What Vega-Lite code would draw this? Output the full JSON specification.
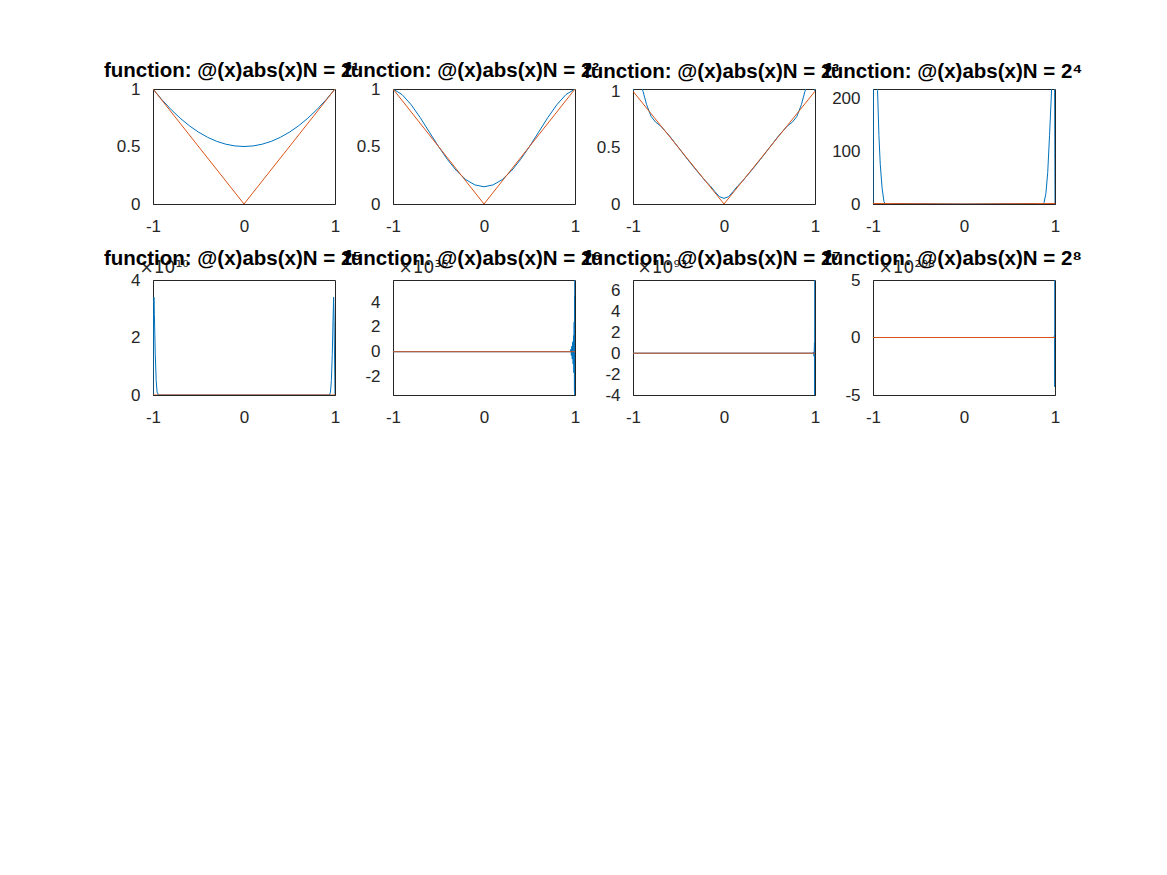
{
  "$schema": "https://vega.github.io/schema/vega-lite/v6.json",
  "autosize": "none",
  "padding": {"left": 153, "top": 89, "right": 1014, "bottom": 786},
  "background": "white",
  "datasets": {
    "curves": [
      {"p":1,"s":"p","x":-1,"y":1},{"p":1,"s":"p","x":-0.9,"y":0.905},{"p":1,"s":"p","x":-0.8,"y":0.82},{"p":1,"s":"p","x":-0.7,"y":0.745},{"p":1,"s":"p","x":-0.6,"y":0.68},{"p":1,"s":"p","x":-0.5,"y":0.625},{"p":1,"s":"p","x":-0.4,"y":0.58},{"p":1,"s":"p","x":-0.3,"y":0.545},{"p":1,"s":"p","x":-0.2,"y":0.52},{"p":1,"s":"p","x":-0.1,"y":0.505},{"p":1,"s":"p","x":0,"y":0.5},{"p":1,"s":"p","x":0.1,"y":0.505},{"p":1,"s":"p","x":0.2,"y":0.52},{"p":1,"s":"p","x":0.3,"y":0.545},{"p":1,"s":"p","x":0.4,"y":0.58},{"p":1,"s":"p","x":0.5,"y":0.625},{"p":1,"s":"p","x":0.6,"y":0.68},{"p":1,"s":"p","x":0.7,"y":0.745},{"p":1,"s":"p","x":0.8,"y":0.82},{"p":1,"s":"p","x":0.9,"y":0.905},{"p":1,"s":"p","x":1,"y":1},
      {"p":1,"s":"f","x":-1,"y":1},{"p":1,"s":"f","x":0,"y":0},{"p":1,"s":"f","x":1,"y":1},

      {"p":2,"s":"p","x":-1,"y":1},{"p":2,"s":"p","x":-0.9,"y":0.951},{"p":2,"s":"p","x":-0.8,"y":0.863},{"p":2,"s":"p","x":-0.7,"y":0.75},{"p":2,"s":"p","x":-0.6,"y":0.625},{"p":2,"s":"p","x":-0.5,"y":0.5},{"p":2,"s":"p","x":-0.4,"y":0.385},{"p":2,"s":"p","x":-0.3,"y":0.287},{"p":2,"s":"p","x":-0.2,"y":0.212},{"p":2,"s":"p","x":-0.1,"y":0.166},{"p":2,"s":"p","x":0,"y":0.15},{"p":2,"s":"p","x":0.1,"y":0.166},{"p":2,"s":"p","x":0.2,"y":0.212},{"p":2,"s":"p","x":0.3,"y":0.287},{"p":2,"s":"p","x":0.4,"y":0.385},{"p":2,"s":"p","x":0.5,"y":0.5},{"p":2,"s":"p","x":0.6,"y":0.625},{"p":2,"s":"p","x":0.7,"y":0.75},{"p":2,"s":"p","x":0.8,"y":0.863},{"p":2,"s":"p","x":0.9,"y":0.951},{"p":2,"s":"p","x":1,"y":1},
      {"p":2,"s":"f","x":-1,"y":1},{"p":2,"s":"f","x":0,"y":0},{"p":2,"s":"f","x":1,"y":1},

      {"p":3,"s":"p","x":-1,"y":1},{"p":3,"s":"p","x":-0.98,"y":1.07},{"p":3,"s":"p","x":-0.95,"y":1.12},{"p":3,"s":"p","x":-0.92,"y":1.08},{"p":3,"s":"p","x":-0.89,"y":1.0},{"p":3,"s":"p","x":-0.85,"y":0.88},{"p":3,"s":"p","x":-0.8,"y":0.775},{"p":3,"s":"p","x":-0.75,"y":0.725},{"p":3,"s":"p","x":-0.7,"y":0.695},{"p":3,"s":"p","x":-0.6,"y":0.605},{"p":3,"s":"p","x":-0.5,"y":0.5},{"p":3,"s":"p","x":-0.4,"y":0.395},{"p":3,"s":"p","x":-0.3,"y":0.295},{"p":3,"s":"p","x":-0.2,"y":0.2},{"p":3,"s":"p","x":-0.15,"y":0.16},{"p":3,"s":"p","x":-0.1,"y":0.11},{"p":3,"s":"p","x":-0.05,"y":0.065},{"p":3,"s":"p","x":0,"y":0.05},{"p":3,"s":"p","x":0.05,"y":0.065},{"p":3,"s":"p","x":0.1,"y":0.11},{"p":3,"s":"p","x":0.15,"y":0.16},{"p":3,"s":"p","x":0.2,"y":0.2},{"p":3,"s":"p","x":0.3,"y":0.295},{"p":3,"s":"p","x":0.4,"y":0.395},{"p":3,"s":"p","x":0.5,"y":0.5},{"p":3,"s":"p","x":0.6,"y":0.605},{"p":3,"s":"p","x":0.7,"y":0.695},{"p":3,"s":"p","x":0.75,"y":0.725},{"p":3,"s":"p","x":0.8,"y":0.775},{"p":3,"s":"p","x":0.85,"y":0.88},{"p":3,"s":"p","x":0.89,"y":1.0},{"p":3,"s":"p","x":0.92,"y":1.08},{"p":3,"s":"p","x":0.95,"y":1.12},{"p":3,"s":"p","x":0.98,"y":1.07},{"p":3,"s":"p","x":1,"y":1},
      {"p":3,"s":"f","x":-1,"y":1},{"p":3,"s":"f","x":0,"y":0},{"p":3,"s":"f","x":1,"y":1},

      {"p":4,"s":"p","x":-1,"y":1},{"p":4,"s":"p","x":-0.99,"y":500},{"p":4,"s":"p","x":-0.975,"y":520},{"p":4,"s":"p","x":-0.96,"y":330},{"p":4,"s":"p","x":-0.95,"y":215},{"p":4,"s":"p","x":-0.935,"y":130},{"p":4,"s":"p","x":-0.92,"y":75},{"p":4,"s":"p","x":-0.9,"y":30},{"p":4,"s":"p","x":-0.88,"y":5},{"p":4,"s":"p","x":-0.86,"y":-2},{"p":4,"s":"p","x":-0.84,"y":-3},{"p":4,"s":"p","x":-0.82,"y":-1.5},{"p":4,"s":"p","x":-0.8,"y":0.5},{"p":4,"s":"p","x":-0.75,"y":1.0},{"p":4,"s":"p","x":-0.7,"y":0.8},{"p":4,"s":"p","x":-0.6,"y":0.6},{"p":4,"s":"p","x":-0.5,"y":0.5},{"p":4,"s":"p","x":-0.4,"y":0.4},{"p":4,"s":"p","x":-0.2,"y":0.2},{"p":4,"s":"p","x":0,"y":0},{"p":4,"s":"p","x":0.2,"y":0.2},{"p":4,"s":"p","x":0.4,"y":0.4},{"p":4,"s":"p","x":0.5,"y":0.5},{"p":4,"s":"p","x":0.6,"y":0.6},{"p":4,"s":"p","x":0.7,"y":0.8},{"p":4,"s":"p","x":0.75,"y":1.0},{"p":4,"s":"p","x":0.8,"y":0.5},{"p":4,"s":"p","x":0.82,"y":-1.5},{"p":4,"s":"p","x":0.84,"y":-3},{"p":4,"s":"p","x":0.86,"y":-2},{"p":4,"s":"p","x":0.88,"y":3},{"p":4,"s":"p","x":0.9,"y":20},{"p":4,"s":"p","x":0.92,"y":60},{"p":4,"s":"p","x":0.94,"y":130},{"p":4,"s":"p","x":0.963,"y":218},{"p":4,"s":"p","x":0.975,"y":400},{"p":4,"s":"p","x":0.99,"y":500},{"p":4,"s":"p","x":1,"y":1},
      {"p":4,"s":"f","x":-1,"y":1},{"p":4,"s":"f","x":0,"y":0},{"p":4,"s":"f","x":1,"y":1},

      {"p":5,"s":"p","x":-1,"y":0},{"p":5,"s":"p","x":-0.995,"y":2.6},{"p":5,"s":"p","x":-0.99,"y":3.4},{"p":5,"s":"p","x":-0.985,"y":2.8},{"p":5,"s":"p","x":-0.975,"y":1.4},{"p":5,"s":"p","x":-0.965,"y":0.5},{"p":5,"s":"p","x":-0.955,"y":0.1},{"p":5,"s":"p","x":-0.94,"y":0},{"p":5,"s":"p","x":0,"y":0},{"p":5,"s":"p","x":0.94,"y":0},{"p":5,"s":"p","x":0.95,"y":0.1},{"p":5,"s":"p","x":0.96,"y":0.5},{"p":5,"s":"p","x":0.97,"y":1.4},{"p":5,"s":"p","x":0.98,"y":2.8},{"p":5,"s":"p","x":0.985,"y":3.4},{"p":5,"s":"p","x":0.99,"y":2.6},{"p":5,"s":"p","x":1,"y":0},
      {"p":5,"s":"f","x":-1,"y":0},{"p":5,"s":"f","x":1,"y":0},

      {"p":6,"s":"p","x":-1,"y":0},{"p":6,"s":"p","x":0.95,"y":0},{"p":6,"s":"p","x":0.955,"y":0.2},{"p":6,"s":"p","x":0.96,"y":-0.3},{"p":6,"s":"p","x":0.965,"y":0.45},{"p":6,"s":"p","x":0.97,"y":-0.6},{"p":6,"s":"p","x":0.975,"y":0.8},{"p":6,"s":"p","x":0.98,"y":-1.0},{"p":6,"s":"p","x":0.984,"y":1.3},{"p":6,"s":"p","x":0.988,"y":-1.7},{"p":6,"s":"p","x":0.991,"y":2.4},{"p":6,"s":"p","x":0.994,"y":-3.2},{"p":6,"s":"p","x":0.996,"y":4.5},{"p":6,"s":"p","x":0.998,"y":-6},{"p":6,"s":"p","x":0.999,"y":9},{"p":6,"s":"p","x":1,"y":0},
      {"p":6,"s":"f","x":-1,"y":0},{"p":6,"s":"f","x":1,"y":0},

      {"p":7,"s":"p","x":-1,"y":0},{"p":7,"s":"p","x":0.98,"y":0},{"p":7,"s":"p","x":0.985,"y":0.1},{"p":7,"s":"p","x":0.99,"y":-0.3},{"p":7,"s":"p","x":0.994,"y":1},{"p":7,"s":"p","x":0.997,"y":-5},{"p":7,"s":"p","x":0.999,"y":9},{"p":7,"s":"p","x":1,"y":0},
      {"p":7,"s":"f","x":-1,"y":0},{"p":7,"s":"f","x":1,"y":0},

      {"p":8,"s":"p","x":-1,"y":0},{"p":8,"s":"p","x":0.99,"y":0},{"p":8,"s":"p","x":0.995,"y":0.2},{"p":8,"s":"p","x":0.998,"y":-4.3},{"p":8,"s":"p","x":0.9995,"y":5.5},{"p":8,"s":"p","x":1,"y":0},
      {"p":8,"s":"f","x":-1,"y":0},{"p":8,"s":"f","x":1,"y":0}
    ]
  },
  "data": {"name": "curves"},
  "columns": 4,
  "spacing": {"row": 76, "column": 58},
  "bounds": "flush",
  "concat": [
    {"width":182,"height":115,"title":{"text":"function: @(x)abs(x)N = 2¹","offset":-1.5},
     "encoding":{"x":{"field":"x","type":"quantitative","scale":{"domain":[-1,1],"nice":false,"zero":false},"axis":{"values":[-1,0,1]}},
                 "y":{"field":"y","type":"quantitative","scale":{"domain":[0,1],"nice":false,"zero":false},"axis":{"values":[0,0.5,1]}}},
     "layer":[{"transform":[{"filter":"datum.p==1 && datum.s=='p'"}],"mark":{"type":"line","clip":true,"color":"#0072BD","strokeWidth":1}},
              {"transform":[{"filter":"datum.p==1 && datum.s=='f'"}],"mark":{"type":"line","clip":true,"color":"#D95319","strokeWidth":1}}]},
    {"width":182,"height":115,"title":{"text":"function: @(x)abs(x)N = 2²","offset":-1.5},
     "encoding":{"x":{"field":"x","type":"quantitative","scale":{"domain":[-1,1],"nice":false,"zero":false},"axis":{"values":[-1,0,1]}},
                 "y":{"field":"y","type":"quantitative","scale":{"domain":[0,1],"nice":false,"zero":false},"axis":{"values":[0,0.5,1]}}},
     "layer":[{"transform":[{"filter":"datum.p==2 && datum.s=='p'"}],"mark":{"type":"line","clip":true,"color":"#0072BD","strokeWidth":1}},
              {"transform":[{"filter":"datum.p==2 && datum.s=='f'"}],"mark":{"type":"line","clip":true,"color":"#D95319","strokeWidth":1}}]},
    {"width":182,"height":115,"title":{"text":"function: @(x)abs(x)N = 2³","offset":0},
     "encoding":{"x":{"field":"x","type":"quantitative","scale":{"domain":[-1,1],"nice":false,"zero":false},"axis":{"values":[-1,0,1]}},
                 "y":{"field":"y","type":"quantitative","scale":{"domain":[0,1.02],"nice":false,"zero":false},"axis":{"values":[0,0.5,1]}}},
     "layer":[{"transform":[{"filter":"datum.p==3 && datum.s=='p'"}],"mark":{"type":"line","clip":true,"color":"#0072BD","strokeWidth":1}},
              {"transform":[{"filter":"datum.p==3 && datum.s=='f'"}],"mark":{"type":"line","clip":true,"color":"#D95319","strokeWidth":1}}]},
    {"width":182,"height":115,"title":{"text":"function: @(x)abs(x)N = 2⁴","offset":7},
     "encoding":{"x":{"field":"x","type":"quantitative","scale":{"domain":[-1,1],"nice":false,"zero":false},"axis":{"values":[-1,0,1]}},
                 "y":{"field":"y","type":"quantitative","scale":{"domain":[0,218],"nice":false,"zero":false},"axis":{"values":[0,100,200]}}},
     "layer":[{"transform":[{"filter":"datum.p==4 && datum.s=='p'"}],"mark":{"type":"line","clip":true,"color":"#0072BD","strokeWidth":1}},
              {"transform":[{"filter":"datum.p==4 && datum.s=='f'"}],"mark":{"type":"line","clip":true,"color":"#D95319","strokeWidth":1}}]},
    {"width":182,"height":115,"title":{"text":"function: @(x)abs(x)N = 2⁵","offset":-11},
     "encoding":{"x":{"field":"x","type":"quantitative","scale":{"domain":[-1,1],"nice":false,"zero":false},"axis":{"values":[-1,0,1]}},
                 "y":{"field":"y","type":"quantitative","scale":{"domain":[0,4],"nice":false,"zero":false},"axis":{"values":[0,2,4],"title":"×10¹⁰","titleX":-14}}},
     "layer":[{"transform":[{"filter":"datum.p==5 && datum.s=='p'"}],"mark":{"type":"line","clip":true,"color":"#0072BD","strokeWidth":1}},
              {"transform":[{"filter":"datum.p==5 && datum.s=='f'"}],"mark":{"type":"line","clip":true,"color":"#D95319","strokeWidth":1}}]},
    {"width":182,"height":115,"title":{"text":"function: @(x)abs(x)N = 2⁶","offset":-11},
     "encoding":{"x":{"field":"x","type":"quantitative","scale":{"domain":[-1,1],"nice":false,"zero":false},"axis":{"values":[-1,0,1]}},
                 "y":{"field":"y","type":"quantitative","scale":{"domain":[-3.5,5.8],"nice":false,"zero":false},"axis":{"values":[-2,0,2,4],"title":"×10³⁶","titleX":5}}},
     "layer":[{"transform":[{"filter":"datum.p==6 && datum.s=='p'"}],"mark":{"type":"line","clip":true,"color":"#0072BD","strokeWidth":1}},
              {"transform":[{"filter":"datum.p==6 && datum.s=='f'"}],"mark":{"type":"line","clip":true,"color":"#D95319","strokeWidth":1}}]},
    {"width":182,"height":115,"title":{"text":"function: @(x)abs(x)N = 2⁷","offset":-11},
     "encoding":{"x":{"field":"x","type":"quantitative","scale":{"domain":[-1,1],"nice":false,"zero":false},"axis":{"values":[-1,0,1]}},
                 "y":{"field":"y","type":"quantitative","scale":{"domain":[-4,7],"nice":false,"zero":false},"axis":{"values":[-4,-2,0,2,4,6],"title":"×10⁹³","titleX":4}}},
     "layer":[{"transform":[{"filter":"datum.p==7 && datum.s=='p'"}],"mark":{"type":"line","clip":true,"color":"#0072BD","strokeWidth":1}},
              {"transform":[{"filter":"datum.p==7 && datum.s=='f'"}],"mark":{"type":"line","clip":true,"color":"#D95319","strokeWidth":1}}]},
    {"width":182,"height":115,"title":{"text":"function: @(x)abs(x)N = 2⁸","offset":-11},
     "encoding":{"x":{"field":"x","type":"quantitative","scale":{"domain":[-1,1],"nice":false,"zero":false},"axis":{"values":[-1,0,1]}},
                 "y":{"field":"y","type":"quantitative","scale":{"domain":[-5,5],"nice":false,"zero":false},"axis":{"values":[-5,0,5],"title":"×10²⁰⁸","titleX":5}}},
     "layer":[{"transform":[{"filter":"datum.p==8 && datum.s=='p'"}],"mark":{"type":"line","clip":true,"color":"#0072BD","strokeWidth":1}},
              {"transform":[{"filter":"datum.p==8 && datum.s=='f'"}],"mark":{"type":"line","clip":true,"color":"#D95319","strokeWidth":1}}]}
  ],
  "resolve": {"scale": {"x": "independent", "y": "independent"}},
  "config": {
    "view": {"stroke": "#262626", "strokeWidth": 1},
    "title": {"font": "Liberation Sans", "fontSize": 20.5, "fontWeight": "bold", "color": "#000000", "anchor": "start", "frame": "group", "baseline": "alphabetic", "dx": -49},
    "axis": {"labelFont": "Liberation Sans", "labelFontSize": 17, "labelColor": "#262626", "grid": false, "ticks": false, "domainColor": "#262626", "labelExpr": "toString(datum.value)", "title": null,
             "titleFont": "DejaVu Sans", "titleFontSize": 17, "titleFontWeight": "normal", "titleColor": "#262626", "titleAngle": 0, "titleAlign": "left", "titleBaseline": "alphabetic", "titleY": -8},
    "axisX": {"labelPadding": 14.5, "labelFlush": false},
    "axisY": {"labelPadding": 13}
  }
}
